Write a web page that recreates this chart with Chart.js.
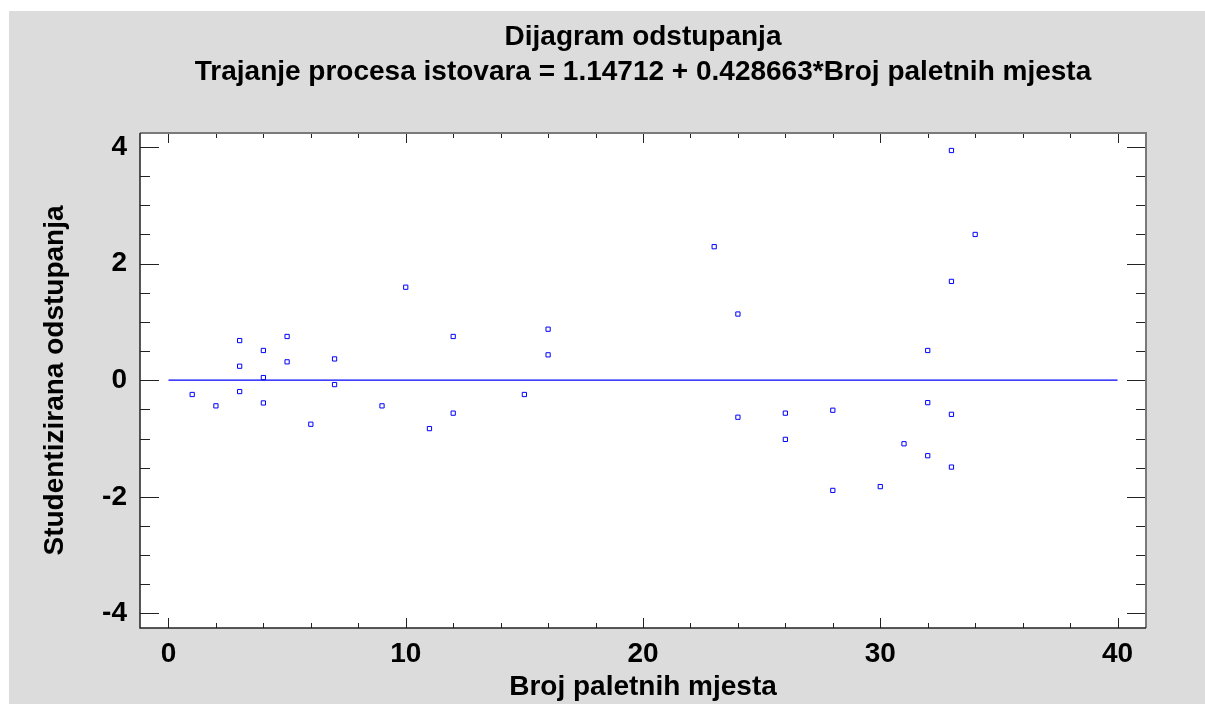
<!DOCTYPE html>
<html lang="hr">
<head>
<meta charset="UTF-8">
<title>Dijagram odstupanja</title>
<script src="https://cdn.jsdelivr.net/npm/chart.js"></script>
<style>
  * { margin: 0; padding: 0; }
  body { background: #fff; width: 1205px; height: 704px; overflow: hidden; }
  canvas { display: block; }
</style>
</head>
<body>
<canvas id="chart" width="1205" height="704"></canvas>
<script>
// Broj paletnih mjesta (x) i studentizirana odstupanja (y)
const palletPlaces = [1, 2, 3, 3, 3, 4, 4, 4, 5, 5, 6, 7, 7, 9, 10, 11, 12, 12, 15, 16, 16,
  23, 24, 24, 26, 26, 28, 28, 30, 31, 32, 32, 32, 33, 33, 33, 33, 34];
const residuals = [-0.245, -0.44, 0.68, 0.24, -0.195, 0.51, 0.045, -0.39, 0.75, 0.315, -0.755,
  0.365, -0.075, -0.44, 1.595, -0.83, 0.75, -0.565, -0.245, 0.875, 0.435,
  2.29, 1.135, -0.635, -0.565, -1.015, -0.515, -1.89, -1.825, -1.09, 0.51, -0.385, -1.295,
  3.94, 1.695, -0.585, -1.49, 2.5];
const zeroLineX = [0, 40];
const zeroLineY = [0, 0];

const xTicks = [0, 10, 20, 30, 40];
const yTicks = [-4, -2, 0, 2, 4];
const xMinorStep = 2;
const yMinorStep = 0.5;

const titleLines = ['Dijagram odstupanja',
  'Trajanje procesa istovara = 1.14712 + 0.428663*Broj paletnih mjesta'];

const FONT = "'Liberation Sans', Arial, sans-serif";
const BLUE = '#0000ff';

const frame = {
  id: 'frame',
  beforeDraw(chart) {
    const { ctx, chartArea: a } = chart;
    ctx.save();
    ctx.fillStyle = '#dcdcdc';
    ctx.fillRect(9, 11, chart.width - 9, chart.height - 11);
    ctx.fillStyle = '#fff';
    ctx.fillRect(a.left, a.top, a.right - a.left, a.bottom - a.top);
    ctx.restore();
  },
  afterDraw(chart) {
    const { ctx, chartArea: a, scales } = chart;
    const x = scales.x, y = scales.y;
    ctx.save();
    // ticks pointing inward on all four sides
    ctx.strokeStyle = '#222';
    ctx.lineWidth = 1;
    ctx.beginPath();
    for (let v = -4; v <= 4.001; v += yMinorStep) {
      const py = Math.round(y.getPixelForValue(v)) + 0.5;
      const len = yTicks.includes(v) ? 19 : 10;
      ctx.moveTo(a.left, py); ctx.lineTo(a.left + len, py);
      ctx.moveTo(a.right, py); ctx.lineTo(a.right - len, py);
    }
    for (let v = 0; v <= 40; v += xMinorStep) {
      const px = Math.round(x.getPixelForValue(v)) + 0.5;
      const len = xTicks.includes(v) ? 10 : 5;
      ctx.moveTo(px, a.top); ctx.lineTo(px, a.top + len);
      ctx.moveTo(px, a.bottom); ctx.lineTo(px, a.bottom - len);
    }
    ctx.stroke();
    // frame
    ctx.lineWidth = 2;
    ctx.strokeStyle = '#7a7a7a';
    ctx.beginPath();
    ctx.moveTo(a.left, a.top); ctx.lineTo(a.right, a.top); ctx.lineTo(a.right, a.bottom);
    ctx.stroke();
    ctx.strokeStyle = '#222';
    ctx.lineWidth = 1.5;
    ctx.beginPath();
    ctx.moveTo(a.left, a.top); ctx.lineTo(a.left, a.bottom); ctx.lineTo(a.right, a.bottom);
    ctx.stroke();
    // two-line title, centred over the plot
    ctx.fillStyle = '#000';
    ctx.font = 'bold 28px ' + FONT;
    ctx.textAlign = 'center';
    ctx.textBaseline = 'alphabetic';
    const cx = (a.left + a.right) / 2;
    ctx.fillText(titleLines[0], cx, 45);
    ctx.fillText(titleLines[1], cx, 80);
    ctx.restore();
  }
};

new Chart(document.getElementById('chart'), {
  type: 'scatter',
  data: {
    datasets: [{
      type: 'scatter',
      data: palletPlaces.map((v, i) => ({ x: v, y: residuals[i] })),
      pointStyle: 'rect',
      pointRadius: 3,
      pointBorderWidth: 1,
      borderColor: BLUE,
      backgroundColor: 'rgba(0,0,0,0)'
    }, {
      type: 'line',
      data: zeroLineX.map((v, i) => ({ x: v, y: zeroLineY[i] })),
      borderColor: BLUE,
      borderWidth: 1.2,
      pointRadius: 0,
      fill: false
    }]
  },
  options: {
    responsive: false,
    animation: false,
    events: [],
    layout: { padding: { left: 9, top: 133, right: 59, bottom: 0 } },
    plugins: { legend: { display: false }, tooltip: { enabled: false } },
    scales: {
      x: {
        type: 'linear',
        min: -1.2,
        max: 41.2,
        afterBuildTicks: s => { s.ticks = xTicks.map(v => ({ value: v })); },
        afterFit: s => { s.height = 76; },
        grid: { display: false, drawTicks: false },
        border: { display: false },
        ticks: { color: '#000', font: { family: FONT, size: 28, weight: 'bold' }, padding: 9, maxRotation: 0 },
        title: { display: true, text: 'Broj paletnih mjesta', color: '#000',
          font: { family: FONT, size: 28, weight: 'bold' }, padding: { top: 0, bottom: 0 } }
      },
      y: {
        type: 'linear',
        min: -4.25,
        max: 4.24,
        afterBuildTicks: s => { s.ticks = yTicks.map(v => ({ value: v })); },
        afterFit: s => { s.width = 131; },
        grid: { display: false, drawTicks: false },
        border: { display: false },
        ticks: { color: '#000', font: { family: FONT, size: 28, weight: 'bold' }, padding: 13 },
        title: { display: true, text: 'Studentizirana odstupanja', color: '#000',
          font: { family: FONT, size: 28, weight: 'bold' }, padding: { top: 29, bottom: 0 } }
      }
    }
  },
  plugins: [frame]
});
</script>
</body>
</html>
